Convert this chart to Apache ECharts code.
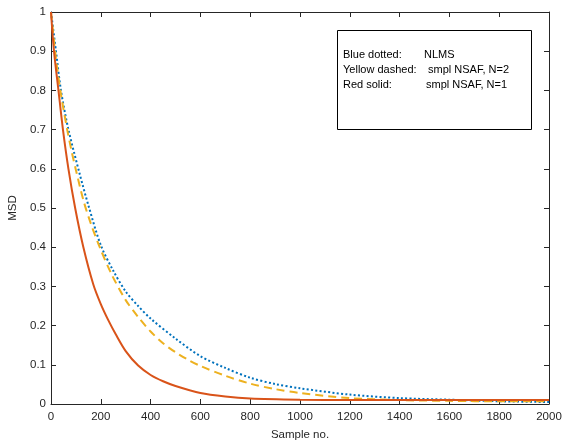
<!DOCTYPE html>
<html>
<head>
    <meta charset="utf-8" />
    <script src="https://cdn.jsdelivr.net/npm/echarts@6/dist/echarts.min.js"></script>
    <style>body { margin: 0; background: #fff; }</style>
</head>
<body>
    <div id="main" style="width:568px;height:444px;"></div>
    <script>
        // NLMS (blue dotted)
        var nlmsX = [0, 20, 40, 70, 116, 150, 200, 250, 300, 350, 400, 500, 600, 700, 800, 900, 1000, 1200, 1400, 1600, 1800, 2000];
        var nlmsY = [1.0, 0.9, 0.8, 0.7, 0.585, 0.507, 0.405, 0.34, 0.287, 0.25, 0.218, 0.167, 0.122, 0.092, 0.067, 0.051, 0.04, 0.024, 0.015, 0.011, 0.007, 0.005];
        // smpl NSAF, N=2 (yellow dashed)
        var nsaf2X = [0, 20, 40, 65, 83, 100, 130, 160, 197, 244, 300, 350, 400, 450, 500, 550, 600, 700, 800, 900, 1000, 1200, 1400, 1600, 1800, 2000];
        var nsaf2Y = [1.0, 0.88, 0.79, 0.7, 0.644, 0.597, 0.52, 0.46, 0.398, 0.33, 0.265, 0.222, 0.185, 0.155, 0.132, 0.113, 0.097, 0.072, 0.052, 0.038, 0.028, 0.015, 0.01, 0.008, 0.007, 0.007];
        // smpl NSAF, N=1 (red solid)
        var nsaf1X = [0, 12, 30, 48, 70, 97, 130, 170, 200, 230, 260, 300, 350, 400, 450, 500, 600, 700, 800, 1000, 1200, 1400, 1600, 1800, 2000];
        var nsaf1Y = [1.0, 0.9, 0.8, 0.7, 0.6, 0.5, 0.4, 0.305, 0.255, 0.214, 0.178, 0.135, 0.098, 0.074, 0.058, 0.046, 0.028, 0.019, 0.014, 0.011, 0.01, 0.01, 0.01, 0.01, 0.01];

        var legendNames = ['Blue dotted:', 'Yellow dashed:', 'Red solid:'];
        var legendDescs = ['NLMS', 'smpl NSAF, N=2', 'smpl NSAF, N=1'];

        function zip(xs, ys) {
            return xs.map(function (x, i) { return [x, ys[i]]; });
        }

        var font = "'Liberation Sans', Arial, Helvetica, sans-serif";
        var axisColor = '#262626';

        var myChart = echarts.init(document.getElementById('main'));

        var tickStyle = { inside: true, length: 5, lineStyle: { color: axisColor, width: 1 } };
        var lineStyleAx = { show: true, onZero: false, lineStyle: { color: axisColor, width: 1 } };

        var option = {
            animation: false,
            backgroundColor: '#fff',
            grid: { left: 51, right: 19, top: 12, bottom: 40, outerBoundsMode: 'none' },
            xAxis: [
                {
                    type: 'value', min: 0, max: 2000, interval: 200, position: 'bottom',
                    axisLine: lineStyleAx, axisTick: tickStyle, splitLine: { show: false },
                    axisLabel: {
                        color: axisColor, fontSize: 11.5, fontFamily: font, margin: 7,
                        formatter: function (v) { return String(v); }
                    },
                    name: 'Sample no.', nameLocation: 'middle', nameGap: 25,
                    nameTextStyle: { color: axisColor, fontSize: 11.5, fontFamily: font }
                },
                {
                    type: 'value', min: 0, max: 2000, interval: 200, position: 'top',
                    axisLine: lineStyleAx, axisTick: tickStyle, splitLine: { show: false },
                    axisLabel: { show: false }
                }
            ],
            yAxis: [
                {
                    type: 'value', min: 0, max: 1, interval: 0.1, position: 'left',
                    axisLine: lineStyleAx, axisTick: tickStyle, splitLine: { show: false },
                    axisLabel: {
                        color: axisColor, fontSize: 11.5, fontFamily: font, margin: 5,
                        formatter: function (v) { return String(Math.round(v * 10) / 10); }
                    },
                    name: 'MSD', nameLocation: 'middle', nameGap: 28, nameRotate: 90,
                    nameTextStyle: { color: axisColor, fontSize: 11.5, fontFamily: font }
                },
                {
                    type: 'value', min: 0, max: 1, interval: 0.1, position: 'right',
                    axisLine: lineStyleAx, axisTick: tickStyle, splitLine: { show: false },
                    axisLabel: { show: false }
                }
            ],
            series: [
                {
                    name: 'NLMS', type: 'line', smooth: 0.3, symbol: 'none',
                    data: zip(nlmsX, nlmsY), z: 3,
                    lineStyle: { color: '#0072BD', width: 2, type: [2, 2.3], cap: 'butt' }
                },
                {
                    name: 'smpl NSAF, N=2', type: 'line', smooth: 0.3, symbol: 'none',
                    data: zip(nsaf2X, nsaf2Y), z: 4,
                    lineStyle: { color: '#EDB120', width: 2, type: [8, 5], cap: 'butt' }
                },
                {
                    name: 'smpl NSAF, N=1', type: 'line', smooth: 0.3, symbol: 'none',
                    data: zip(nsaf1X, nsaf1Y), z: 5,
                    lineStyle: { color: '#D95319', width: 2 }
                }
            ],
            graphic: [
                {
                    type: 'rect', left: 337, top: 30, z: 100,
                    shape: { width: 194, height: 99 },
                    style: { fill: '#fff', stroke: '#000', lineWidth: 1 }
                }
            ].concat(legendNames.map(function (n, i) {
                return {
                    type: 'text', left: 343, top: 49 + i * 15, z: 101,
                    style: { text: n, fill: '#000', font: '11px ' + font }
                };
            })).concat(legendDescs.map(function (d, i) {
                return {
                    type: 'text', left: [424, 428, 426][i], top: 49 + i * 15, z: 101,
                    style: { text: d, fill: '#000', font: '11px ' + font }
                };
            }))
        };

        myChart.setOption(option);
    </script>
</body>
</html>
